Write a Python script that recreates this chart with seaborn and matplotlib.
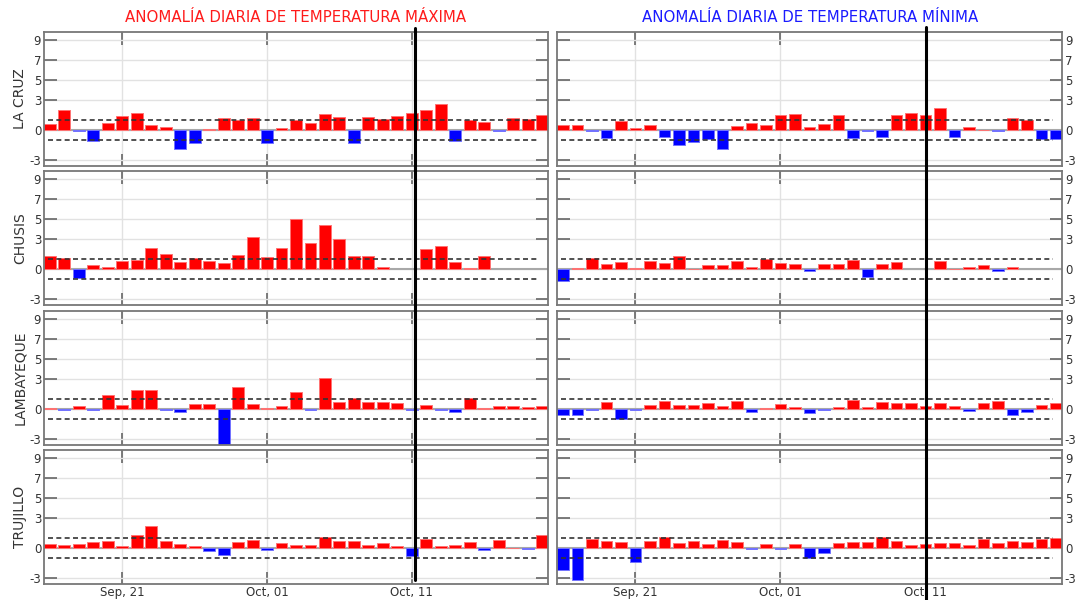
import numpy as np
import pandas as pd
import matplotlib
matplotlib.use("Agg")
import matplotlib.pyplot as plt
import matplotlib.colors as mcolors
from matplotlib import transforms
from matplotlib.lines import Line2D
import seaborn as sns

sns.set_theme(style="white")
plt.rcParams["font.family"] = ["DejaVu Sans"]

nan = np.nan

# Daily period shown in every panel
dates = pd.date_range("2023-09-16", "2023-10-20", freq="D")
day_labels = [d.strftime("%b, %d") for d in dates]
tick_labels = ["Sep, 21", "Oct, 01", "Oct, 11"]

stations = ["LA CRUZ", "CHUSIS", "LAMBAYEQUE", "TRUJILLO"]

# Daily maximum-temperature anomalies (°C)
tmax_la_cruz = [0.6, 2.0, -0.15, -1.15, 0.65, 1.4, 1.65, 0.45, 0.25, -1.95,
                -1.35, 0.05, 1.2, 1.03, 1.2, -1.3, 0.2, 1.0, 0.65, 1.6,
                1.3, -1.3, 1.3, 1.05, 1.4, 1.7, 2.0, 2.6, -1.1, 1.0,
                0.8, -0.13, 1.2, 1.05, 1.5]
tmax_chusis = [1.35, 1.1, -0.85, 0.45, 0.25, 0.85, 0.95, 2.15, 1.55, 0.75,
               1.1, 0.85, 0.65, 1.45, 3.25, 1.25, 2.15, 5.0, 2.6, 4.4,
               3.0, 1.3, 1.3, 0.25, nan, nan, 2.0, 2.35, 0.75, 0.12,
               1.35, nan, nan, nan, nan]
tmax_lambayeque = [0.03, -0.12, 0.27, -0.12, 1.33, 0.4, 1.85, 1.85, -0.12, -0.33,
                   0.45, 0.45, -3.6, 2.12, 0.45, 0.02, 0.27, 1.7, -0.12, 3.1,
                   0.67, 1.07, 0.67, 0.67, 0.6, -0.12, 0.4, -0.12, -0.33, 1.07,
                   0.02, 0.27, 0.27, 0.2, 0.27]
tmax_trujillo = [0.4, 0.27, 0.4, 0.6, 0.67, 0.2, 1.33, 2.23, 0.67, 0.4,
                 0.2, -0.33, -0.7, 0.6, 0.8, -0.2, 0.47, 0.27, 0.27, 1.06,
                 0.67, 0.67, 0.27, 0.47, 0.2, -0.83, 0.86, 0.2, 0.27, 0.6,
                 -0.2, 0.8, 0.02, -0.1, 1.26]

# Daily minimum-temperature anomalies (°C)
tmin_la_cruz = [0.45, 0.45, -0.1, -0.8, 0.85, 0.2, 0.45, -0.75, -1.5, -1.2,
                -0.95, -1.95, 0.4, 0.65, 0.45, 1.45, 1.6, 0.25, 0.6, 1.5,
                -0.85, -0.13, -0.75, 1.5, 1.65, 1.5, 2.2, -0.7, 0.25, 0.03,
                -0.15, 1.2, 1.03, -0.95, -0.95]
tmin_chusis = [-1.15, 0.15, 1.15, 0.55, 0.75, 0.15, 0.85, 0.65, 1.3, 0.05,
               0.45, 0.45, 0.85, 0.25, 1.05, 0.65, 0.5, -0.2, 0.5, 0.5,
               0.95, -0.8, 0.5, 0.75, nan, nan, 0.85, 0.05, 0.25, 0.45,
               -0.2, 0.25, nan, nan, nan]
tmin_lambayeque = [-0.65, -0.6, -0.12, 0.65, -1.0, -0.12, 0.4, 0.8, 0.4, 0.4,
                   0.6, 0.27, 0.8, -0.33, 0.03, 0.45, 0.2, -0.43, -0.12, 0.2,
                   0.85, 0.2, 0.65, 0.6, 0.6, 0.27, 0.6, 0.27, -0.25, 0.6,
                   0.8, -0.65, -0.33, 0.4, 0.6]
tmin_trujillo = [-2.2, -3.22, 0.86, 0.67, 0.6, -1.4, 0.67, 1.06, 0.47, 0.67,
                 0.4, 0.8, 0.6, -0.12, 0.4, -0.12, 0.4, -0.97, -0.53, 0.47,
                 0.6, 0.6, 1.06, 0.67, 0.27, 0.4, 0.47, 0.47, 0.27, 0.86,
                 0.47, 0.67, 0.6, 0.86, 1.0]

tmax = [tmax_la_cruz, tmax_chusis, tmax_lambayeque, tmax_trujillo]
tmin = [tmin_la_cruz, tmin_chusis, tmin_lambayeque, tmin_trujillo]

threshold = 1.0
yticks = [-3, 0, 3, 5, 7, 9]
palette = {"pos": "#ff0000", "neg": "#0000ff"}

W, H = 1076, 600
fig = plt.figure(figsize=(W / 100, H / 100), dpi=100)

col_x = [44, 557]
col_w = [504, 505]
row_top = 32
row_h = 134.0
row_step = 139.3

axes = [[None, None] for _ in stations]
for r, station in enumerate(stations):
    for c, series in enumerate([tmax, tmin]):
        top = row_top + r * row_step
        ax = fig.add_axes([col_x[c] / W, 1 - (top + row_h) / H,
                           col_w[c] / W, row_h / H])
        axes[r][c] = ax
        df = pd.DataFrame({"day": day_labels, "anom": series[r]}).dropna()
        df["sign"] = np.where(df["anom"] >= 0, "pos", "neg")
        sns.barplot(data=df, x="day", y="anom", hue="sign", order=day_labels,
                    hue_order=["pos", "neg"], palette=palette, dodge=False,
                    width=0.82, errorbar=None, legend=False, saturation=1,
                    linewidth=0, ax=ax)
        for p in ax.patches:
            fc = mcolors.to_rgb(p.get_facecolor())
            light = tuple(0.55 * np.array(fc) + 0.45)
            p.set_edgecolor(light)
            p.set_linewidth(0.7)
            p.set_zorder(2)

        ax.set_xlim(-0.41, len(day_labels) - 0.59)
        ax.set_ylim(-3.6, 9.8)
        ax.set_yticks(yticks)
        ax.set_yticklabels([str(t) for t in yticks])
        ax.set_xticks([day_labels.index(t) for t in tick_labels])
        ax.set_xticklabels(tick_labels)
        ax.set_xlabel("")
        ax.set_ylabel("")

        ax.grid(True, color="#e2e2e2", lw=1.0, zorder=0)
        ax.set_axisbelow(True)
        ax.axhline(0, color="#a8a8a8", lw=1.5, zorder=1)
        ax.hlines([threshold, -threshold], -0.1, 33.8, colors="#333333",
                  linestyles=(0, (3, 2)), lw=1.2, zorder=3)

        for s in ax.spines.values():
            s.set_visible(True)
            s.set_color("#777777")
            s.set_linewidth(1.3)

        ax.tick_params(axis="both", direction="in", length=9, width=1.2,
                       color="#666666", top=True, right=True, left=True,
                       bottom=True, labelsize=8.5, labelcolor="#333333", pad=2)
        ax.tick_params(axis="y", labelleft=(c == 0), labelright=(c == 1))
        ax.tick_params(axis="x", labelbottom=(r == len(stations) - 1), pad=1.5)

        if c == 0:
            ax.set_ylabel(station, fontsize=10, color="#333333")
            ax.yaxis.set_label_coords(-0.034, 0.5)

fig.text(296 / W, 1 - 17 / H, "ANOMALÍA DIARIA DE TEMPERATURA MÁXIMA",
         color="#ff1a1a", fontsize=10.8, ha="center", va="center")
fig.text(810 / W, 1 - 17 / H, "ANOMALÍA DIARIA DE TEMPERATURA MÍNIMA",
         color="#1a1aff", fontsize=10.8, ha="center", va="center")

# Reference-date markers
oct11 = day_labels.index("Oct, 11")
tl = transforms.blended_transform_factory(axes[0][0].transData, fig.transFigure)
fig.add_artist(Line2D([oct11 + 0.24] * 2, [1 - 28 / H, 1 - 580 / H],
                      transform=tl, color="black", lw=2.2, zorder=5))
tr = transforms.blended_transform_factory(axes[0][1].transData, fig.transFigure)
fig.add_artist(Line2D([oct11] * 2, [1 - 27 / H, 0.0],
                      transform=tr, color="black", lw=2.2, zorder=5))

fig.savefig("out.png", dpi=100, facecolor="white")
